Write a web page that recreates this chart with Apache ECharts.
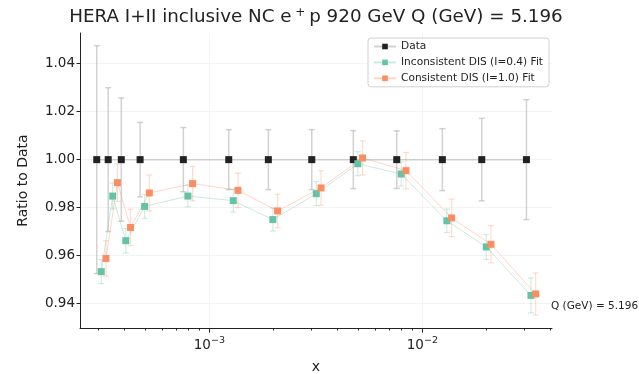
<!DOCTYPE html>
<html>
<head>
<meta charset="utf-8">
<script src="https://cdn.jsdelivr.net/npm/echarts@6/dist/echarts.min.js"></script>
<style>
  html, body { margin: 0; padding: 0; background: #fff; }
  #chart { width: 639px; height: 374px; }
</style>
</head>
<body>
<div id="chart"></div>
<script>
// x positions of the data bins
const xValues = [2.96e-4, 3.35e-4, 3.86e-4, 4.73e-4, 7.55e-4, 1.233e-3, 1.892e-3,
  3.025e-3, 4.74e-3, 7.58e-3, 1.241e-2, 1.90e-2, 3.08e-2];
// data ratio is 1 by construction, with its relative uncertainty
const dataRatio = [1, 1, 1, 1, 1, 1, 1, 1, 1, 1, 1, 1, 1];
const dataErr = [0.0475, 0.030, 0.0257, 0.0155, 0.0134, 0.0125, 0.0125,
  0.0125, 0.0121, 0.012, 0.0129, 0.0172, 0.025];
// fit / data ratios
const inconsistentFit = [0.9533, 0.9848, 0.9662, 0.9805, 0.9848, 0.9829, 0.975,
  0.9858, 0.9983, 0.994, 0.9745, 0.9636, 0.9434];
const inconsistentErr = [0.005, 0.0054, 0.0051, 0.005, 0.0045, 0.0048, 0.0048,
  0.005, 0.005, 0.005, 0.0049, 0.0052, 0.0073];
const consistentFit = [0.9588, 0.9904, 0.9717, 0.9861, 0.990, 0.9872, 0.9786,
  0.9882, 1.0007, 0.9954, 0.9757, 0.9647, 0.944];
const consistentErr = [0.0074, 0.0078, 0.0076, 0.0075, 0.0072, 0.0072, 0.007,
  0.0072, 0.0071, 0.0076, 0.0078, 0.0078, 0.0088];
// small horizontal dodge so the series don't overlap
const inconsistentShift = 1.05;
const consistentShift = 1.105;

const yTicks = [0.94, 0.96, 0.98, 1.00, 1.02, 1.04];
const xMajorTicks = [1e-3, 1e-2];
const xMinorTicks = [3e-4, 4e-4, 5e-4, 6e-4, 7e-4, 8e-4, 9e-4,
  2e-3, 3e-3, 4e-3, 5e-3, 6e-3, 7e-3, 8e-3, 9e-3, 2e-2, 3e-2, 4e-2];

const FONT = 'DejaVu Sans';
const GREEN = '#66c2a5';
const ORANGE = '#fc8d62';

function points(ys, errs, shift) {
  return xValues.map((x, i) => [x * shift, ys[i], errs[i]]);
}

function errorBars(name, pts, color, width) {
  return {
    type: 'custom',
    name: name,
    data: pts,
    silent: true,
    renderItem: function (params, api) {
      const x = api.value(0), y = api.value(1), e = api.value(2);
      const top = api.coord([x, y + e]);
      const bot = api.coord([x, y - e]);
      const cap = 3;
      const style = { stroke: color, lineWidth: width };
      return {
        type: 'group',
        children: [
          { type: 'line', shape: { x1: top[0], y1: top[1], x2: bot[0], y2: bot[1] }, style: style },
          { type: 'line', shape: { x1: top[0] - cap, y1: top[1], x2: top[0] + cap, y2: top[1] }, style: style },
          { type: 'line', shape: { x1: bot[0] - cap, y1: bot[1], x2: bot[0] + cap, y2: bot[1] }, style: style }
        ]
      };
    }
  };
}

const dataPts = points(dataRatio, dataErr, 1);
const incPts = points(inconsistentFit, inconsistentErr, inconsistentShift);
const conPts = points(consistentFit, consistentErr, consistentShift);

const chart = echarts.init(document.getElementById('chart'));

const xMin = 2.47e-4, xMax = 0.0406;

chart.setOption({
  animation: false,
  textStyle: { fontFamily: FONT },
  title: {
    text: 'HERA I+II inclusive NC e{sup| + }p 920 GeV Q (GeV) = 5.196',
    left: 311,
    top: 2,
    textAlign: 'center',
    textStyle: {
      fontFamily: FONT, fontSize: 18.3, fontWeight: 'normal', color: '#222',
      rich: {
        sup: { fontFamily: FONT, fontSize: 12, color: '#222', padding: [0, 0, 9, 0] }
      }
    }
  },
  grid: { left: 80, right: 87, top: 33, bottom: 46, outerBoundsMode: 'none', containLabel: false },
  legend: {
    orient: 'vertical',
    left: 368,
    top: 38,
    padding: [3, 6, 3, 5],
    itemGap: 4.9,
    itemWidth: 22,
    itemHeight: 7,
    borderColor: '#d0d0d0',
    borderWidth: 1,
    borderRadius: 3,
    backgroundColor: 'rgba(255,255,255,0.8)',
    textStyle: { fontFamily: FONT, fontSize: 10.6, color: '#222' },
    data: ['Data', 'Inconsistent DIS (I=0.4) Fit', 'Consistent DIS (I=1.0) Fit']
  },
  xAxis: [
    {
      type: 'log',
      logBase: 10,
      min: xMin,
      max: xMax,
      name: 'x',
      nameLocation: 'middle',
      nameGap: 32,
      nameTextStyle: { fontFamily: FONT, fontSize: 14, color: '#222' },
      axisLine: { show: true, onZero: false, lineStyle: { color: '#222', width: 1 } },
      axisTick: { show: true, length: 4.5, customValues: xMajorTicks, lineStyle: { color: '#222' } },
      minorTick: { show: false },
      axisLabel: {
        customValues: xMajorTicks,
        margin: 8,
        color: '#222',
        fontFamily: FONT,
        fontSize: 13.5,
        formatter: function (v) {
          const p = Math.round(Math.log10(v));
          return '10{sup|' + (p < 0 ? '\u2212' + (-p) : p) + '}';
        },
        rich: {
          sup: { fontFamily: FONT, fontSize: 9.5, color: '#222', padding: [0, 0, 8, 0] }
        }
      },
      splitLine: { show: true, lineStyle: { color: '#f3f3f3', width: 1 } }
    },
    {
      type: 'log',
      logBase: 10,
      min: xMin,
      max: xMax,
      position: 'bottom',
      axisLine: { show: false },
      axisTick: { show: true, length: 2.5, customValues: xMinorTicks, lineStyle: { color: '#222' } },
      axisLabel: { show: false },
      splitLine: { show: false }
    }
  ],
  yAxis: {
    type: 'value',
    min: 0.9298,
    max: 1.0528,
    name: 'Ratio to Data',
    nameLocation: 'middle',
    nameGap: 50,
    nameTextStyle: { fontFamily: FONT, fontSize: 14, color: '#222' },
    axisLine: { show: true, lineStyle: { color: '#222', width: 1 } },
    axisTick: { show: true, length: 3.5, customValues: yTicks, lineStyle: { color: '#222' } },
    axisLabel: {
      customValues: yTicks,
      margin: 5,
      color: '#222',
      fontFamily: FONT,
      fontSize: 13.5,
      formatter: v => v.toFixed(2)
    },
    splitLine: { show: true, lineStyle: { color: '#f3f3f3', width: 1 } }
  },
  graphic: [
    {
      type: 'text',
      left: 551,
      top: 301,
      style: { text: 'Q (GeV) = 5.196', fontFamily: FONT, fontSize: 10.5, fill: '#222' }
    }
  ],
  series: [
    errorBars('dataErr', dataPts, 'rgba(180,180,180,0.6)', 1.5),
    {
      type: 'line',
      name: 'Data',
      data: dataPts.map(p => [p[0], p[1]]),
      symbol: 'rect',
      symbolSize: 7,
      itemStyle: { color: '#222' },
      lineStyle: { color: 'rgba(180,180,180,0.6)', width: 1.5 }
    },
    errorBars('incErr', incPts, 'rgba(102,194,165,0.3)', 1.2),
    {
      type: 'line',
      name: 'Inconsistent DIS (I=0.4) Fit',
      data: incPts.map(p => [p[0], p[1]]),
      symbol: 'rect',
      symbolSize: 7,
      itemStyle: { color: GREEN },
      lineStyle: { color: 'rgba(102,194,165,0.35)', width: 1 }
    },
    errorBars('conErr', conPts, 'rgba(252,141,98,0.3)', 1.2),
    {
      type: 'line',
      name: 'Consistent DIS (I=1.0) Fit',
      data: conPts.map(p => [p[0], p[1]]),
      symbol: 'rect',
      symbolSize: 7,
      itemStyle: { color: ORANGE },
      lineStyle: { color: 'rgba(252,141,98,0.35)', width: 1 }
    }
  ]
});
</script>
</body>
</html>
